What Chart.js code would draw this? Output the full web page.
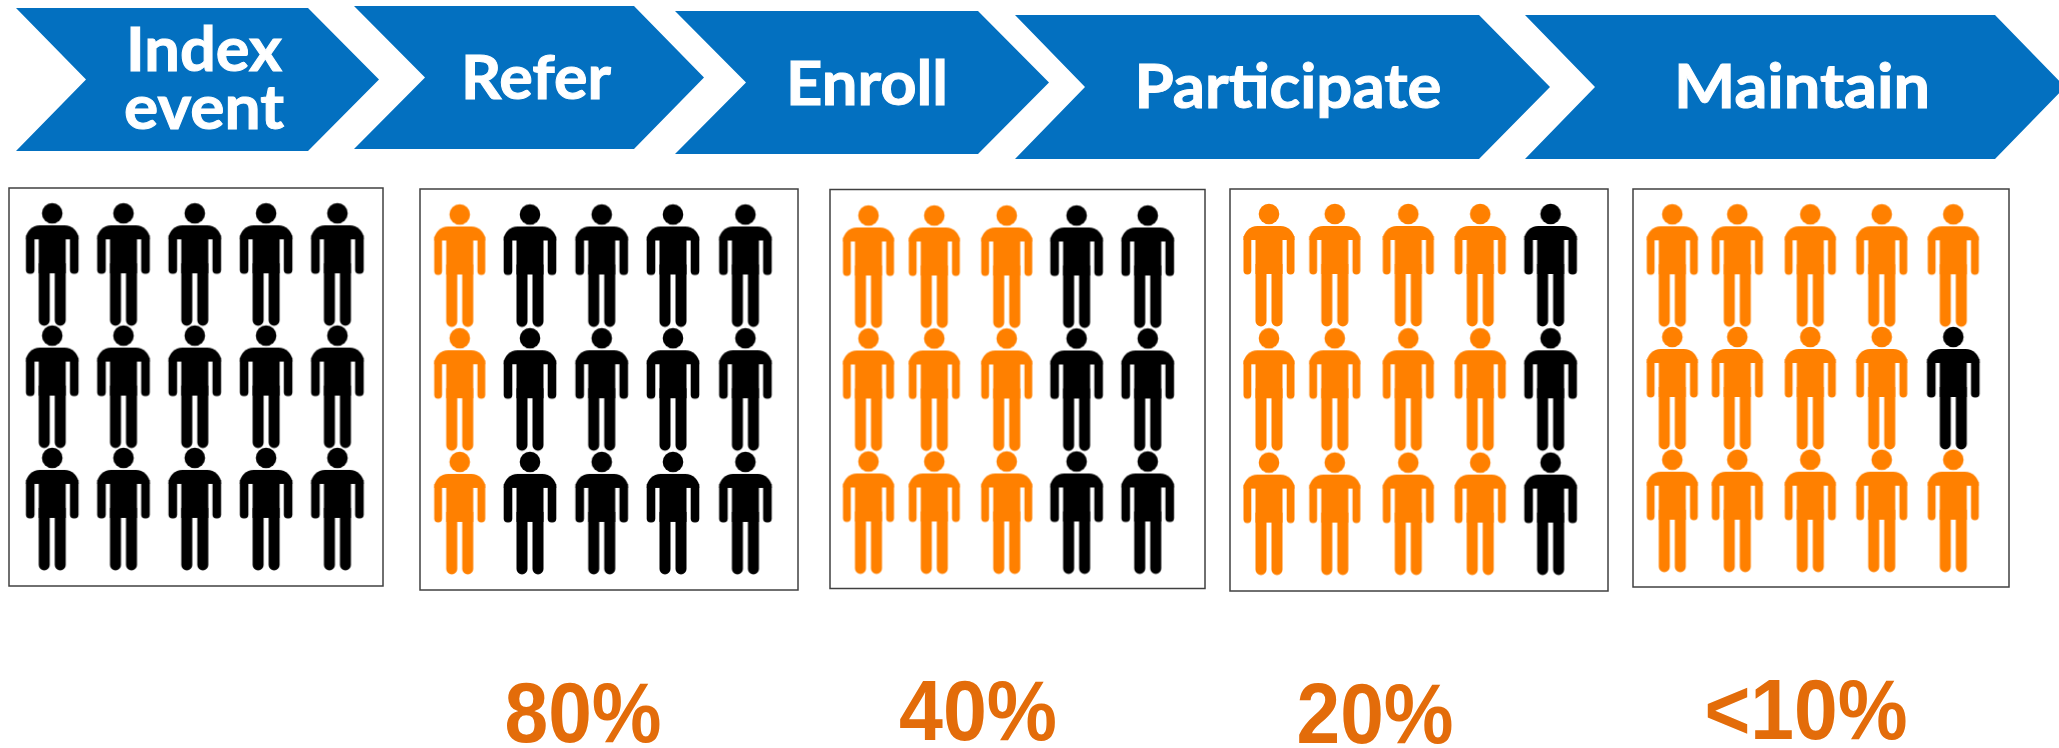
<!DOCTYPE html>
<html>
<head>
<meta charset="utf-8">
<title>Referral to maintenance funnel</title>
<script src="https://cdn.jsdelivr.net/npm/chart.js@4"></script>
<style>
  html, body { margin: 0; padding: 0; background: #ffffff; overflow: hidden; }
  canvas { display: block; }
</style>
</head>
<body>
<canvas id="funnel" width="2059" height="748"></canvas>
<script>
// data
const stages = ["Index\nevent", "Refer", "Enroll", "Participate", "Maintain"];
const peopleLeft = [15, 12, 6, 3, 1];   // black figures out of 15 at each stage
const percentLabels = ["", "80%", "40%", "20%", "<10%"];
const columns = [0, 1, 2, 3, 4];
const rows = [0, 1, 2];

const WIDTH = 2059, HEIGHT = 748;
const BLUE = "#0370c0", ORANGE = "#ff8000", BLACK = "#000000", LABEL = "#e36c0a";

// layout of the arrows along the top
const arrows = [
  { left: 16, notch: 86, shoulder: 308, tip: 379, top: 8, bottom: 151 },
  { left: 354, notch: 425, shoulder: 634, tip: 704, top: 6, bottom: 149 },
  { left: 675, notch: 746, shoulder: 978, tip: 1049, top: 11, bottom: 154 },
  { left: 1015, notch: 1085, shoulder: 1479, tip: 1550, top: 15, bottom: 159 },
  { left: 1525, notch: 1595, shoulder: 1995, tip: 2065, top: 15, bottom: 159 }
];
// one text entry per line: centre x, baseline, drawn width
const arrowText = [
  [{ x: 204, y: 71, w: 156 }, { x: 204, y: 129, w: 160 }],
  [{ x: 536, y: 99, w: 150 }],
  [{ x: 867, y: 105, w: 162 }],
  [{ x: 1288, y: 108, w: 307 }],
  [{ x: 1802, y: 108, w: 256 }]
];
const percentText = [
  null,
  { x: 583, y: 742, w: 157 },
  { x: 978, y: 740, w: 158 },
  { x: 1375, y: 743, w: 157 },
  { x: 1806, y: 739, w: 203 }
];

// boxes around the figures, with the grid each one carries
const panels = [
  { left: 9, right: 383, top: 188, bottom: 586, x0: 52.2, dx: 71.3, y0: 264.3, dy: 122.3, drift: [0, 0, 0, 0, 0] },
  { left: 420, right: 798, top: 189, bottom: 590, x0: 459.7, dx: 71.4, y0: 265.5, dy: 123.7, drift: [0, -1.1, -0.8, -0.9, 0.1] },
  { left: 830, right: 1205, top: 189.5, bottom: 588.5, x0: 868.5, dx: 69.8, y0: 266.5, dy: 123, drift: [0, -4, -1.4, -1.3, 0] },
  { left: 1230, right: 1608, top: 189, bottom: 591, x0: 1269, dx: 70.4, y0: 265, dy: 124.3, drift: [0, -4.6, -1.5, 0, 0] },
  { left: 1633, right: 2009, top: 189, bottom: 587, x0: 1672.3, dx: 70.25, y0: 265.3, dy: 122.7, drift: [0, -5.25, -2.5, -1.35, 0] }
];

/**
 * draws one standing figure on its own small canvas, used as a point style
 * @param {string} colour - fill colour of the figure
 * @param {number} grow - extra half width, the black figures sit a touch wider
 */
function makeFigure(colour, grow) {
  const c = document.createElement("canvas");
  c.width = 56;
  c.height = 126;
  const g = c.getContext("2d");
  const cx = 28, top = 2;
  const out = 25.5 + grow;
  g.fillStyle = colour;

  const block = (x, y, w, h, r) => {
    g.beginPath();
    g.roundRect(x, top + y, w, h, r);
    g.fill();
  };

  // head
  g.beginPath();
  g.arc(cx, top + 10, 10.3, 0, Math.PI * 2);
  g.fill();

  block(cx - out, 22, out * 2, 14, [14, 14, 0, 0]);         // shoulders
  block(cx - out, 32, 7.8 + grow, 38.5, [0, 0, 3.9, 3.9]);  // arms
  block(cx + 17.7, 32, 7.8 + grow, 38.5, [0, 0, 3.9, 3.9]);
  block(cx - 13.5, 30, 27, 40, 0);                          // torso
  block(cx - 13.5, 60, 11, 62.4, [0, 0, 5.5, 5.5]);         // legs
  block(cx + 2.5, 60, 11, 62.4, [0, 0, 5.5, 5.5]);
  return c;
}

const blackFigure = makeFigure(BLACK, 0.8);
const orangeFigure = makeFigure(ORANGE, 0);

// black figures fill from the right-hand column, middle row first
const rowRank = [1, 0, 2];
function isLeft(panel, col, row) {
  return (4 - col) * 3 + rowRank[row] < peopleLeft[panel];
}

// each panel gets its own pair of axes, counted in grid cells
const scales = {};
const datasets = [];
stages.forEach((stage, i) => {
  const p = panels[i];
  scales["x" + i] = { type: "linear", display: false, min: -p.x0 / p.dx, max: (WIDTH - p.x0) / p.dx };
  scales["y" + i] = { type: "linear", display: false, reverse: true, min: -p.y0 / p.dy, max: (HEIGHT - p.y0) / p.dy };

  const cells = { black: [], orange: [] };
  columns.forEach(col => {
    rows.forEach(row => {
      const cell = { x: col + p.drift[col] / p.dx, y: row };
      (isLeft(i, col, row) ? cells.black : cells.orange).push(cell);
    });
  });

  [[cells.black, blackFigure], [cells.orange, orangeFigure]].forEach(([data, figure]) => {
    datasets.push({
      label: stage.replace("\n", " "),
      data: data,
      xAxisID: "x" + i,
      yAxisID: "y" + i,
      showLine: false,
      clip: false,
      pointStyle: figure,
      pointRadius: 5
    });
  });
});

// writes a line stretched sideways to the width it should take
function fitText(ctx, text, t, thicken) {
  const natural = ctx.measureText(text).width;
  ctx.save();
  ctx.translate(t.x, t.y);
  ctx.scale(t.w / natural, 1);
  ctx.fillText(text, 0, 0);
  if (thicken) ctx.strokeText(text, 0, 0);
  ctx.restore();
}

// arrows, boxes and the text that goes with them
const furniture = {
  id: "furniture",
  beforeDatasetsDraw(chart) {
    const ctx = chart.ctx;
    ctx.save();

    arrows.forEach(a => {
      const mid = (a.top + a.bottom) / 2;
      ctx.beginPath();
      ctx.moveTo(a.left, a.top);
      ctx.lineTo(a.shoulder, a.top);
      ctx.lineTo(a.tip, mid);
      ctx.lineTo(a.shoulder, a.bottom);
      ctx.lineTo(a.left, a.bottom);
      ctx.lineTo(a.notch, mid);
      ctx.closePath();
      ctx.fillStyle = BLUE;
      ctx.fill();
    });

    ctx.strokeStyle = "#404040";
    ctx.lineWidth = 1.5;
    panels.forEach(p => ctx.strokeRect(p.left, p.top, p.right - p.left, p.bottom - p.top));

    ctx.textAlign = "center";
    ctx.textBaseline = "alphabetic";

    ctx.fillStyle = "#ffffff";
    ctx.strokeStyle = "#ffffff";
    ctx.lineWidth = 1;
    ctx.font = "700 61px Lato";
    stages.forEach((stage, i) => {
      stage.split("\n").forEach((line, n) => fitText(ctx, line, arrowText[i][n], true));
    });

    ctx.fillStyle = LABEL;
    ctx.font = "700 86px 'Liberation Sans'";
    percentLabels.forEach((label, i) => {
      if (percentText[i]) fitText(ctx, label, percentText[i], false);
    });

    ctx.restore();
  }
};

new Chart(document.getElementById("funnel").getContext("2d"), {
  type: "scatter",
  data: { datasets: datasets },
  options: {
    responsive: false,
    animation: false,
    layout: { autoPadding: false, padding: 0 },
    scales: scales,
    plugins: { legend: { display: false }, tooltip: { enabled: false } }
  },
  plugins: [furniture]
});
</script>
</body>
</html>
